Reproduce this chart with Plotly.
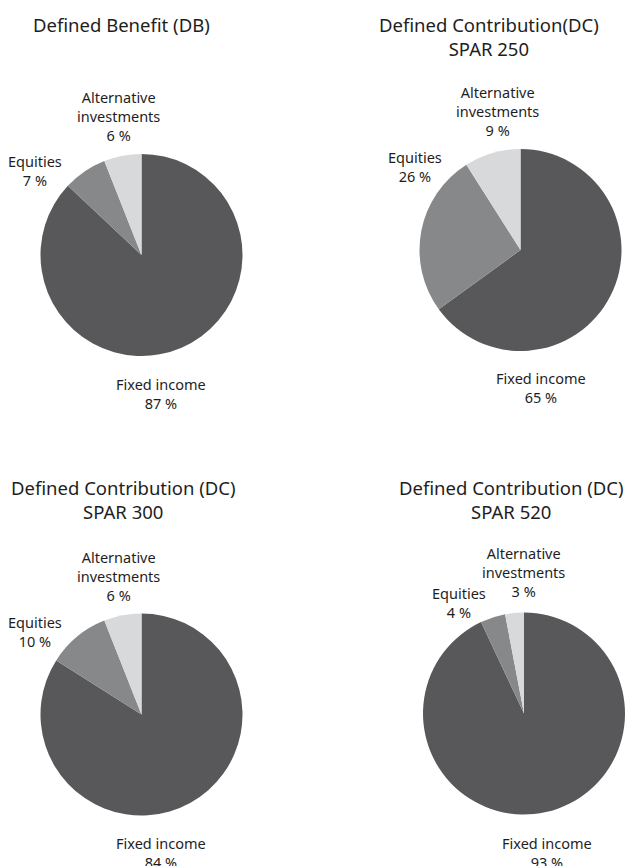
import plotly.graph_objects as go

W, H = 625, 866

# ---- data ----
categories = ["Fixed income", "Equities", "Alternative investments"]
cat_labels = ["Fixed income", "Equities", "Alternative<br>investments"]
titles = ["Defined Benefit (DB)", "Defined Contribution(DC)<br>SPAR 250",
          "Defined Contribution (DC)<br>SPAR 300", "Defined Contribution (DC)<br>SPAR 520"]
db_values = [87, 7, 6]
spar250_values = [65, 26, 9]
spar300_values = [84, 10, 6]
spar520_values = [93, 4, 3]
series = [db_values, spar250_values, spar300_values, spar520_values]

colors = ["#58585a", "#87888a", "#d8d9db"]
FONT = "Noto Sans"

# ---- layout (pixel geometry) ----
pies = [(141.5, 255, 101), (520.5, 250, 101), (141.5, 714.5, 101), (524, 713.5, 101)]
title_pos = [(121, 25), (489, 36.5), (123.5, 500), (511, 500)]
label_pos = [
    [(161, 393), (35, 171), (118, 116)],
    [(541, 387), (415, 166.5), (498, 111)],
    [(161, 852), (35, 631), (118, 576)],
    [(547, 852), (459, 602.5), (523, 571.5)],
]

fig = go.Figure()
annotations = []
for i, vals in enumerate(series):
    cx, cy, r = pies[i]
    fig.add_trace(go.Pie(
        labels=categories, values=vals, sort=False, direction="clockwise",
        rotation=0, textinfo="none", hoverinfo="label+percent",
        marker=dict(colors=colors, line=dict(width=0)),
        domain=dict(x=[(cx - r) / W, (cx + r) / W],
                    y=[1 - (cy + r) / H, 1 - (cy - r) / H]),
        showlegend=False,
    ))
    tx, ty = title_pos[i]
    annotations.append(dict(text=titles[i], x=tx / W, y=1 - ty / H, xref="paper", yref="paper",
                            xanchor="center", yanchor="middle", showarrow=False,
                            font=dict(family=FONT, size=18.5, color="#1e1e1e")))
    for j, v in enumerate(vals):
        lx, ly = label_pos[i][j]
        annotations.append(dict(text=f"{cat_labels[j]}<br>{v} %", x=lx / W, y=1 - ly / H,
                                xref="paper", yref="paper", xanchor="center", yanchor="middle",
                                showarrow=False, align="center",
                                font=dict(family=FONT, size=14.5, color="#1e1e1e")))

fig.update_layout(width=W, height=H, margin=dict(l=0, r=0, t=0, b=0),
                  paper_bgcolor="white", plot_bgcolor="white",
                  annotations=annotations)
fig.write_html("out.html")
